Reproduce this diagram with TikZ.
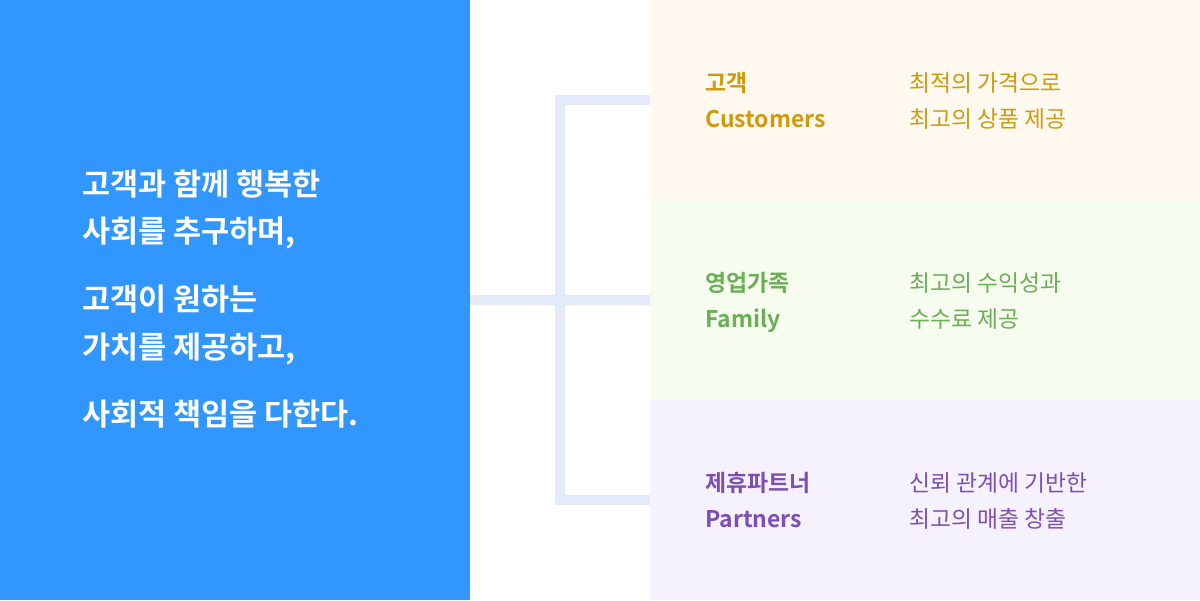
\documentclass[tikz,border=0pt]{standalone}
\usepackage{fontspec}
\setmainfont{Noto Sans CJK KR}[BoldFont={* Bold}]
\definecolor{mainblue}{RGB}{50,150,255}
\definecolor{brk}{RGB}{228,234,250}
\definecolor{custbg}{RGB}{255,249,240}
\definecolor{famibg}{RGB}{246,253,238}
\definecolor{partbg}{RGB}{245,241,253}
\definecolor{custc}{RGB}{208,154,14}
\definecolor{famic}{RGB}{106,174,85}
\definecolor{partc}{RGB}{125,79,181}
\tikzstyle{pn} = [rectangle, inner sep=0pt, outer sep=0pt, anchor=north west, minimum width=13.75cm, minimum height=5cm]
\tikzstyle{lt} = [white, anchor=base west, inner sep=0pt, font=\fontsize{21.7}{26}\selectfont\bfseries]
\tikzstyle{tl} = [anchor=base west, inner sep=0pt, font=\fontsize{16.3}{19}\selectfont\bfseries]
\tikzstyle{ds} = [anchor=base west, inner sep=0pt, font=\fontsize{16.2}{19}\selectfont]

\begin{document}
\begin{tikzpicture}[x=0.025cm, y=-0.025cm]
	\useasboundingbox (0,0) rectangle (1200,600);
	
	% left panel
	\node [pn, fill=mainblue, minimum width=11.75cm, minimum height=15cm] (mission) at (0,0) {};
	\node [lt] (m1) at (82,195) {고객과 함께 행복한};
	\node [lt] (m2) at (82,242) {사회를 추구하며,};
	\node [lt] (m3) at (82,310) {고객이 원하는};
	\node [lt] (m4) at (82,358) {가치를 제공하고,};
	\node [lt] (m5) at (82,425) {사회적 책임을 다한다.};
	
	% right panels
	\node [pn, fill=custbg] (cust) at (650,0) {};
	\node [pn, fill=famibg] (fami) at (650,200) {};
	\node [pn, fill=partbg] (part) at (650,400) {};
	
	% bracket
	\coordinate (fork) at (560,300);
	\draw [brk, line width=0.25cm] (cust.west) -| (fork) |- (part.west);
	\draw [brk, line width=0.25cm] (mission.east) -- (fami.west);
	
	\node [tl, custc] (ct1) at (705,91) {고객};
	\node [tl, custc] (ct2) at (705,127) {Customers};
	\node [ds, custc] (cd1) at (909,91) {최적의 가격으로};
	\node [ds, custc] (cd2) at (909,127) {최고의 상품 제공};
	
	\node [tl, famic] (ft1) at (705,291) {영업가족};
	\node [tl, famic] (ft2) at (705,327) {Family};
	\node [ds, famic] (fd1) at (909,291) {최고의 수익성과};
	\node [ds, famic] (fd2) at (909,327) {수수료 제공};
	
	\node [tl, partc] (pt1) at (705,491) {제휴파트너};
	\node [tl, partc] (pt2) at (705,527) {Partners};
	\node [ds, partc] (pd1) at (909,491) {신뢰 관계에 기반한};
	\node [ds, partc] (pd2) at (909,527) {최고의 매출 창출};
\end{tikzpicture}
\end{document}
